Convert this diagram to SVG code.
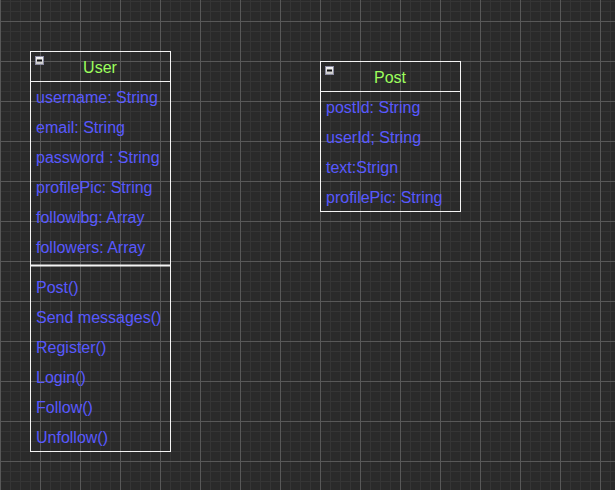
<svg xmlns="http://www.w3.org/2000/svg" width="615" height="490" viewBox="0 0 615 490">
  <defs>
    <pattern id="grid" patternUnits="userSpaceOnUse" x="0" y="21" width="40" height="40">
      <rect width="40" height="40" fill="#2a2a2a"/>
      <path d="M10.5 0V40M20.5 0V40M30.5 0V40M0 10.5H40M0 20.5H40M0 30.5H40" stroke="#353535" stroke-width="1" fill="none"/>
      <path d="M0.5 0V40M0 0.5H40" stroke="#585858" stroke-width="1" fill="none"/>
    </pattern>
    <linearGradient id="btn" x1="0" y1="0" x2="0" y2="1">
      <stop offset="0" stop-color="#fafafa"/>
      <stop offset="1" stop-color="#c4c4c4"/>
    </linearGradient>
    <g id="collapse">
      <rect x="0.5" y="0.5" width="8" height="8" fill="url(#btn)" stroke="#8a8aa0" stroke-width="1"/>
      <rect x="2" y="3.5" width="5" height="2" fill="#111"/>
    </g>
  </defs>
  <style>
    .box { fill: none; stroke: #f4f4f4; stroke-width: 1; }
    .sep { stroke: #f4f4f4; stroke-width: 1; }
    .sep2 { stroke: #f4f4f4; stroke-width: 2; }
    .title { font-family: "Liberation Sans", Arial, sans-serif; font-size: 16px; fill: #9cff5c; text-anchor: middle; }
    .item { font-family: "Liberation Sans", Arial, sans-serif; font-size: 16px; fill: #5858ff; }
  </style>
  <rect width="615" height="490" fill="url(#grid)"/>

  <g id="connectors"></g>

  <g id="node-user">
    <rect class="box" x="30.5" y="51.5" width="140" height="400"/>
    <line class="sep" x1="30" y1="81.5" x2="171" y2="81.5"/>
    <line class="sep2" x1="30" y1="265.5" x2="171" y2="265.5"/>
    <use href="#collapse" x="35" y="56"/>
    <text class="title" x="100" y="73">User</text>
    <text class="item" x="36" y="103">username: String</text>
    <text class="item" x="36" y="133">email: String</text>
    <text class="item" x="36" y="163">password : String</text>
    <text class="item" x="36" y="193">profilePic: String</text>
    <text class="item" x="36" y="223">followibg: Array</text>
    <text class="item" x="36" y="253">followers: Array</text>
    <text class="item" x="36" y="293">Post()</text>
    <text class="item" x="36" y="323">Send messages()</text>
    <text class="item" x="36" y="353">Register()</text>
    <text class="item" x="36" y="383">Login()</text>
    <text class="item" x="36" y="413">Follow()</text>
    <text class="item" x="36" y="443">Unfollow()</text>
  </g>

  <g id="node-post">
    <rect class="box" x="320.5" y="61.5" width="140" height="150"/>
    <line class="sep" x1="320" y1="91.5" x2="461" y2="91.5"/>
    <use href="#collapse" x="325" y="66"/>
    <text class="title" x="390" y="83">Post</text>
    <text class="item" x="326" y="113">postId: String</text>
    <text class="item" x="326" y="143">userId; String</text>
    <text class="item" x="326" y="173">text:Strign</text>
    <text class="item" x="326" y="203">profilePic: String</text>
  </g>
</svg>
